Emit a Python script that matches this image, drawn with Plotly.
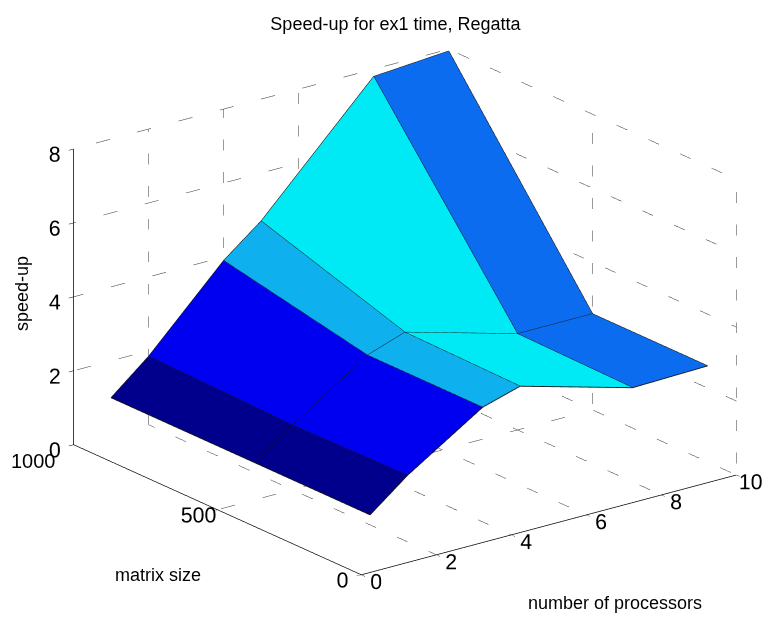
import plotly.graph_objects as go

# ---- data ----
PROCS = [1, 2, 4, 5, 8, 10]          # number of processors
MATRIX = [100, 500, 1000]             # matrix size
SPEEDUP = [                            # rows follow MATRIX, columns follow PROCS
    [1.0, 1.80, 3.10, 3.40, 2.55, 2.60],
    [1.0, 1.75, 3.10, 3.45, 2.60, 2.60],
    [1.0, 1.85, 3.90, 4.70, 7.80, 7.95],
]
X_TICKS = [0, 2, 4, 6, 8, 10]
Y_TICKS = [0, 500, 1000]
Y_TICKTEXT = ["0", "500", "1000"]
Z_TICKS = [0, 2, 4, 6, 8]

TITLE = "Speed-up for ex1 time, Regatta"
XLABEL = "number of processors"
YLABEL = "matrix size"
ZLABEL = "speed-up"

# ---- styles ----
COLUMN_COLORS = ["#00008C", "#0000F0", "#0FB0EE", "#00EAF5", "#0C6CF0"]
FONT = "Liberation Sans, Arial, sans-serif"
W, H, OFF = 778, 619, 8   # page offset of the figure inside the window

nr, nc = len(MATRIX), len(PROCS)
vx, vy, vz = [], [], []
for r in range(nr):
    for c in range(nc):
        vx.append(PROCS[c]); vy.append(MATRIX[r]); vz.append(SPEEDUP[r][c])

I, J, K, FC = [], [], [], []
for r in range(nr - 1):
    for c in range(nc - 1):
        a = r * nc + c
        b = a + 1
        d = a + nc
        e = d + 1
        I += [a, a]; J += [b, e]; K += [e, d]
        FC += [COLUMN_COLORS[c]] * 2

fig = go.Figure()
fig.add_trace(go.Mesh3d(
    x=vx, y=vy, z=vz, i=I, j=J, k=K, facecolor=FC, flatshading=True,
    lighting=dict(ambient=1, diffuse=0, specular=0, roughness=1, fresnel=0),
    hoverinfo="skip", showscale=False))

# mesh edges
ex, ey, ez = [], [], []
for r in range(nr):
    for c in range(nc):
        ex.append(PROCS[c]); ey.append(MATRIX[r]); ez.append(SPEEDUP[r][c])
    ex.append(None); ey.append(None); ez.append(None)
for c in range(nc):
    for r in range(nr):
        ex.append(PROCS[c]); ey.append(MATRIX[r]); ez.append(SPEEDUP[r][c])
    ex.append(None); ey.append(None); ez.append(None)
fig.add_trace(go.Scatter3d(x=ex, y=ey, z=ez, mode="lines",
                           line=dict(color="#151515", width=1.8),
                           hoverinfo="skip", showlegend=False))

# dotted grid on the back planes (built from tick lists)
x0, x1 = X_TICKS[0], X_TICKS[-1]
y0, y1 = Y_TICKS[0], Y_TICKS[-1]
z0, z1 = Z_TICKS[0], Z_TICKS[-1]
gx, gy, gz = [], [], []
def seg(p, q):
    gx.extend([p[0], q[0], None]); gy.extend([p[1], q[1], None]); gz.extend([p[2], q[2], None])
for xt in X_TICKS[1:]:
    seg((xt, y1, z0), (xt, y1, z1))
    seg((xt, y0, z0), (xt, y1, z0))
for zt in Z_TICKS[1:]:
    seg((x0, y1, zt), (x1, y1, zt))
    seg((x1, y0, zt), (x1, y1, zt))
for yt in Y_TICKS[:-1]:
    seg((x1, yt, z0), (x1, yt, z1))
    seg((x0, yt, z0), (x1, yt, z0))
fig.add_trace(go.Scatter3d(x=gx, y=gy, z=gz, mode="lines",
                           line=dict(color="#333333", width=1, dash="dot"),
                           hoverinfo="skip", showlegend=False))

axcommon = dict(showgrid=False, zeroline=False, showbackground=False,
                showline=True, linecolor="black", linewidth=1.5,
                ticks="outside", tickcolor="black", ticklen=6, tickangle=0,
                tickfont=dict(size=16, color="black", family=FONT),
                title=dict(text=""), showspikes=False)

# the last matrix-size label would sit on top of the z "0" label in the 3D scene,
# so it is written as a 2D label just below-left of that corner instead
y_scene_text = Y_TICKTEXT[:-1] + [""]

fig.update_layout(
    width=W, height=H, paper_bgcolor="white", plot_bgcolor="white",
    margin=dict(l=0, r=0, t=0, b=0), showlegend=False,
    title=dict(text=TITLE, x=0.498, xanchor="center", y=0.975, yanchor="middle",
               font=dict(size=18, color="black", family=FONT)),
    scene=dict(
        domain=dict(x=[0.02, 1.0], y=[0.018, 1.0]),
        xaxis=dict(range=[x0, x1], tickvals=X_TICKS, **axcommon),
        yaxis=dict(range=[y0, y1], tickvals=Y_TICKS, ticktext=y_scene_text, **axcommon),
        zaxis=dict(range=[z0, z1], tickvals=Z_TICKS, **axcommon),
        aspectmode="manual", aspectratio=dict(x=1.555, y=1.555, z=1.037),
        camera=dict(projection=dict(type="orthographic"),
                    eye=dict(x=-0.734, y=-0.957, z=0.446),
                    up=dict(x=0, y=0, z=1), center=dict(x=0, y=0, z=0)),
    ),
)

labels = [
    (YLABEL, 158, 575, 0, 18),
    (XLABEL, 615, 603, 0, 18),
    (ZLABEL, 22, 294, -90, 18),
    (Y_TICKTEXT[-1], 34, 461, 0, 20),
]
for text, px, py, ang, sz in labels:
    fig.add_annotation(text=text, x=(px - OFF) / W, y=1 - (py - OFF) / H,
                       xref="paper", yref="paper", showarrow=False, textangle=ang,
                       xanchor="center", yanchor="middle",
                       font=dict(size=sz, color="black", family=FONT))

fig.write_html("out.html")
